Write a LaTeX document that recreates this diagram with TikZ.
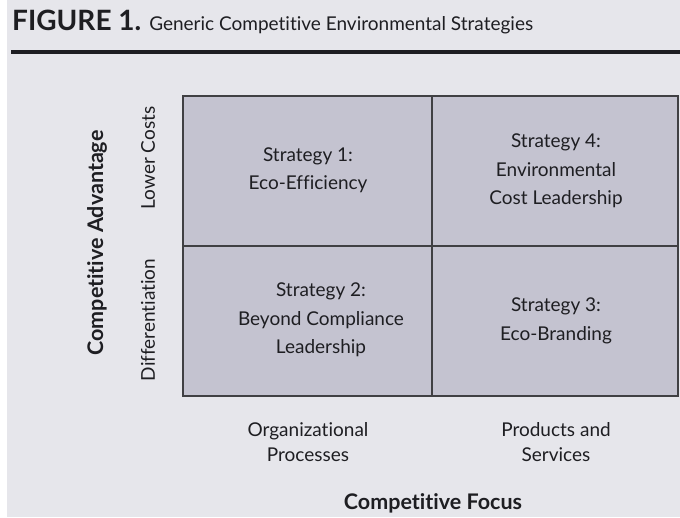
\documentclass[tikz,border=0pt]{standalone}
\usepackage{fontspec}
\setmainfont{Lato}[Ligatures=NoCommon]
\definecolor{paper}{HTML}{E6E6EB}
\definecolor{cellfill}{HTML}{C4C3D0}
\definecolor{ink}{HTML}{1E1E22}
\begin{document}
\begin{tikzpicture}[x=1pt,y=-1pt,
  celltext/.style={align=center,font=\fontsize{19}{28.5}\selectfont,text=ink,inner sep=0pt},
  axistext/.style={align=center,font=\fontsize{19}{25}\selectfont,text=ink,inner sep=0pt},
  axistitle/.style={font=\fontsize{21.5}{24}\selectfont\bfseries,text=ink,inner sep=0pt},
  gridline/.style={draw=ink!85,line width=1.4pt}]
% page
\fill[paper] (0,0) rectangle (680,517);
\fill[white] (0,0) rectangle (7,517);
\useasboundingbox (0,0) rectangle (680,517);
% heading
\node[anchor=base west,inner sep=0pt,text=ink] (title) at (12,30)
  {\fontsize{28}{30}\selectfont\bfseries FIGURE 1.\hspace{8pt}\fontsize{19}{24}\mdseries Generic Competitive Environmental Strategies};
\draw[ink,line width=4pt] (11,52) coordinate (rl) -- (680,52) coordinate (rr);
% matrix cells
\coordinate (tl) at (183,96);
\coordinate (tm) at (432,96);
\coordinate (tr) at (678,96);
\coordinate (ml) at (183,246);
\coordinate (mr) at (678,246);
\coordinate (bl) at (183,396);
\coordinate (bm) at (432,396);
\coordinate (br) at (678,396);
\fill[cellfill] (tl) rectangle (br);
\draw[gridline] (tl) rectangle (br);
\draw[gridline] (tm) -- (bm);
\draw[gridline] (ml) -- (mr);
% strategies
\node[celltext] (s1) at (308,170) {Strategy 1:\\Eco-Efficiency};
\node[celltext] (s4) at (556,171) {Strategy 4:\\Environmental\\Cost Leadership};
\node[celltext] (s2) at (321,320) {Strategy 2:\\Beyond Compliance\\Leadership};
\node[celltext] (s3) at (556,321) {Strategy 3:\\Eco-Branding};
% horizontal axis
\node[axistext] (org) at (308,442) {Organizational\\Processes};
\node[axistext] (prod) at (556,442) {Products and\\Services};
\node[axistitle] (focus) at (433,503) {Competitive Focus};
% vertical axis
\node[axistext,rotate=90] (low) at (148,158) {Lower Costs};
\node[axistext,rotate=90] (diff) at (148,320) {Differentiation};
\node[axistitle,rotate=90] (adv) at (97,243) {Competitive Advantage};
\end{tikzpicture}
\end{document}
